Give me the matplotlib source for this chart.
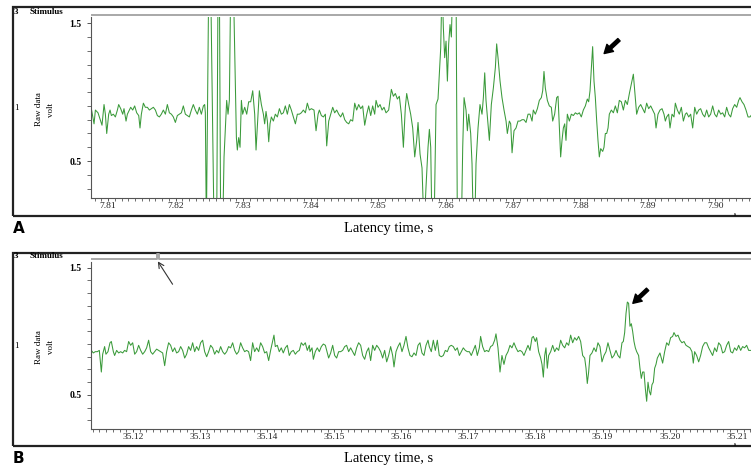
import matplotlib.pyplot as plt
from matplotlib.patches import Rectangle
from matplotlib.ticker import MultipleLocator, FormatStrFormatter

# Panel A trace: (ms after 7.80 s, volt). Values outside the axis were clipped in the recording.
trace_a = [
    (7.53, 0.88), (7.93, 0.77), (8.13, 0.87), (8.52, 0.85), (8.92, 0.79), (9.11, 0.76), (9.41, 0.91),
    (9.61, 0.84), (9.81, 0.70), (10.10, 0.84), (10.30, 0.87), (10.50, 0.83), (10.79, 0.84), (11.09, 0.82),
    (11.39, 0.87), (11.58, 0.91), (11.88, 0.88), (12.18, 0.84), (12.37, 0.88), (12.67, 0.79), (12.87, 0.84),
    (13.16, 0.87), (13.36, 0.89), (13.66, 0.87), (13.95, 0.90), (14.25, 0.85), (14.55, 0.83), (14.74, 0.74),
    (14.94, 0.84), (15.24, 0.92), (15.53, 0.89), (15.83, 0.89), (16.13, 0.87), (16.42, 0.88), (16.72, 0.89),
    (17.02, 0.87), (17.31, 0.83), (17.61, 0.82), (17.90, 0.84), (18.20, 0.87), (18.50, 0.84), (18.79, 0.91),
    (19.09, 0.85), (19.39, 0.84), (19.68, 0.82), (19.98, 0.78), (20.27, 0.83), (20.57, 0.84), (20.87, 0.85),
    (21.16, 0.90), (21.46, 0.84), (21.76, 0.83), (22.05, 0.82), (22.35, 0.87), (22.64, 0.91), (22.94, 0.87),
    (23.24, 0.84), (23.53, 0.89), (23.83, 0.84), (24.13, 0.90), (24.32, 0.91), (24.42, 0.85),
    (24.57, 0.0), (24.92, 1.8), (25.21, 1.8), (25.71, 0.0), (26.10, 0.0), (26.30, 1.8), (26.50, 1.8),
    (26.69, 0.0), (26.99, 0.0), (27.19, 0.53), (27.58, 0.94), (27.78, 0.84), (27.98, 0.94), (28.18, 1.8),
    (28.57, 1.8), (29.02, 0.67), (29.16, 0.58), (29.36, 0.67), (29.56, 0.60), (29.76, 0.94), (29.95, 0.84),
    (30.25, 0.89), (30.55, 0.84), (30.84, 0.93), (31.14, 0.93), (31.44, 1.01), (31.73, 0.84), (31.93, 0.58),
    (32.23, 0.84), (32.42, 1.01), (32.72, 0.91), (33.02, 0.84), (33.21, 0.77), (33.41, 0.86), (33.61, 0.79),
    (33.81, 0.64), (34.00, 0.77), (34.20, 0.82), (34.50, 0.79), (34.79, 0.84), (35.09, 0.82), (35.39, 0.88),
    (35.68, 0.84), (35.98, 0.85), (36.27, 0.90), (36.57, 0.84), (36.87, 0.91), (37.16, 0.87), (37.46, 0.82),
    (37.76, 0.77), (38.05, 0.84), (38.35, 0.84), (38.64, 0.85), (38.94, 0.87), (39.24, 0.85), (39.53, 0.92),
    (39.83, 0.87), (40.13, 0.88),
    (40.52, 0.87), (40.82, 0.72), (41.12, 0.84), (41.31, 0.87), (41.61, 0.83), (41.91, 0.82), (42.20, 0.84),
    (42.40, 0.61), (42.70, 0.79), (42.99, 0.84), (43.29, 0.89), (43.58, 0.85), (43.88, 0.87), (44.18, 0.84),
    (44.47, 0.82), (44.77, 0.85), (45.07, 0.80), (45.36, 0.78), (45.66, 0.77), (45.95, 0.80), (46.25, 0.79),
    (46.55, 0.92), (46.84, 0.87), (47.14, 0.91), (47.44, 0.88), (47.73, 0.90), (48.03, 0.76), (48.33, 0.84),
    (48.62, 0.90), (48.92, 0.83), (49.21, 0.90), (49.51, 0.84), (49.71, 0.94), (50.00, 0.89), (50.30, 0.91),
    (50.60, 0.87), (50.89, 0.89), (51.19, 0.85), (51.58, 0.87), (51.98, 1.02), (52.28, 0.97), (52.57, 0.99),
    (52.87, 0.95), (53.16, 0.97), (53.46, 0.84), (53.76, 0.60), (54.05, 0.89), (54.25, 0.99), (54.55, 0.91),
    (54.84, 0.84), (55.14, 0.74), (55.44, 0.53), (55.73, 0.65), (55.93, 0.78), (56.23, 0.55), (56.52, 0.45),
    (56.82, 0.0), (57.11, 0.31), (57.41, 0.60), (57.61, 0.73), (57.81, 0.60), (58.00, 0.0), (58.30, 0.0),
    (58.60, 0.91), (58.89, 0.95), (59.09, 1.13), (59.29, 1.32), (59.49, 1.8), (59.68, 1.47), (59.88, 1.25),
    (60.08, 1.37), (60.28, 1.08), (60.47, 1.35), (60.67, 1.49), (60.87, 1.40), (61.07, 1.8), (61.26, 1.8),
    (61.56, 1.8), (61.76, 0.0), (61.95, 0.0), (62.35, 0.0), (62.55, 0.60), (62.75, 0.96), (63.04, 0.87),
    (63.24, 0.72), (63.44, 0.84), (63.73, 0.70), (63.93, 0.48), (64.13, 0.0), (64.33, 0.0), (64.52, 0.48),
    (64.82, 0.74), (65.11, 0.91), (65.41, 0.84), (65.61, 0.96), (65.81, 1.14), (66.00, 0.94), (66.30, 0.77),
    (66.50, 0.65), (66.79, 0.91), (67.09, 1.03), (67.39, 1.18), (67.58, 1.35), (67.78, 1.25), (68.08, 1.08),
    (68.37, 0.96), (68.67, 0.87), (68.97, 0.79), (69.16, 0.70), (69.46, 0.79), (69.66, 0.77), (69.86, 0.56),
    (70.15, 0.72), (70.45, 0.74), (70.74, 0.79), (71.04, 0.79), (71.34, 0.80), (71.63, 0.80), (71.93, 0.78),
    (72.23, 0.84),
    (72.52, 0.84), (72.82, 0.79), (73.01, 0.87), (73.31, 0.84), (73.61, 0.88), (73.90, 0.94), (74.20, 0.96),
    (74.40, 1.01), (74.59, 1.15), (74.79, 1.03), (75.09, 0.94), (75.38, 0.90), (75.68, 0.89), (75.88, 0.79),
    (76.17, 0.84), (76.47, 0.96), (76.67, 0.97), (76.87, 0.74), (77.06, 0.53), (77.26, 0.65), (77.46, 0.74),
    (77.66, 0.77), (77.85, 0.65), (78.05, 0.84), (78.35, 0.79), (78.64, 0.84), (78.94, 0.83), (79.24, 0.85),
    (79.53, 0.84), (79.83, 0.85), (80.12, 0.82), (80.42, 0.87), (80.72, 0.90), (81.01, 0.95), (81.21, 0.93),
    (81.41, 1.01), (81.61, 1.18), (81.80, 1.33), (82.00, 1.08), (82.20, 0.96), (82.40, 0.79), (82.59, 0.65),
    (82.79, 0.53), (82.99, 0.59), (83.29, 0.57), (83.48, 0.60), (83.68, 0.70), (83.88, 0.70), (84.08, 0.74),
    (84.27, 0.84), (84.57, 0.87), (84.87, 0.85), (85.16, 0.90), (85.46, 0.85), (85.75, 0.94), (86.05, 0.93),
    (86.35, 0.87), (86.64, 0.94), (86.94, 0.91), (87.24, 0.99), (87.53, 1.06), (87.83, 1.13), (88.12, 0.96),
    (88.32, 0.84), (88.62, 0.89), (88.92, 0.91), (89.21, 0.88), (89.51, 0.85), (89.80, 0.92), (90.10, 0.88),
    (90.40, 0.90), (90.69, 0.87), (90.99, 0.84), (91.19, 0.74), (91.48, 0.84), (91.78, 0.87), (92.08, 0.88),
    (92.37, 0.84), (92.57, 0.79), (92.77, 0.82), (93.06, 0.84), (93.26, 0.74), (93.56, 0.84), (93.85, 0.82),
    (94.05, 0.92), (94.35, 0.87), (94.64, 0.84), (94.94, 0.89), (95.24, 0.79), (95.53, 0.84), (95.73, 0.85),
    (96.03, 0.82), (96.32, 0.84), (96.62, 0.74), (96.92, 0.89), (97.21, 0.84), (97.51, 0.87), (97.80, 0.88),
    (98.10, 0.84), (98.40, 0.82), (98.69, 0.87), (98.99, 0.82), (99.28, 0.84), (99.58, 0.90), (99.88, 0.84),
    (100.17, 0.82), (100.47, 0.87), (100.77, 0.84), (101.06, 0.85), (101.36, 0.82), (101.65, 0.89),
    (101.95, 0.84), (102.25, 0.82), (102.54, 0.88), (102.84, 0.91), (103.14, 0.89), (103.43, 0.94),
    (103.63, 0.96), (103.93, 0.93), (104.22, 0.91), (104.52, 0.87), (104.82, 0.82), (105.11, 0.82),
    (105.26, 0.83),
]

# Panel B trace: (ms after 35.10 s, volt)
trace_b = [
    (13.79, 0.85), (14.08, 0.83), (14.38, 0.84), (14.68, 0.84), (14.98, 0.85), (15.28, 0.68), (15.48, 0.82),
    (15.77, 0.88), (15.97, 0.82), (16.27, 0.84), (16.57, 0.91), (16.77, 0.92), (17.07, 0.84), (17.26, 0.81),
    (17.56, 0.85), (17.86, 0.83), (18.16, 0.84), (18.46, 0.83), (18.75, 0.85), (19.05, 0.84), (19.35, 0.92),
    (19.65, 0.89), (19.95, 0.91), (20.25, 0.82), (20.54, 0.84), (20.84, 0.89), (21.14, 0.85), (21.44, 0.82),
    (21.74, 0.84), (22.03, 0.87), (22.33, 0.93), (22.63, 0.84), (22.93, 0.82), (23.23, 0.84), (23.52, 0.86),
    (23.82, 0.85), (24.12, 0.84), (24.42, 0.83), (24.72, 0.73), (25.01, 0.84), (25.31, 0.91), (25.61, 0.89),
    (25.91, 0.84), (26.21, 0.87), (26.50, 0.83), (26.80, 0.84), (27.10, 0.88), (27.40, 0.85), (27.70, 0.79),
    (27.99, 0.82), (28.29, 0.88), (28.59, 0.85), (28.89, 0.91), (29.19, 0.84), (29.48, 0.88), (29.78, 0.85),
    (30.08, 0.91), (30.38, 0.93), (30.68, 0.84), (30.98, 0.80), (31.27, 0.84), (31.57, 0.89), (31.87, 0.87),
    (32.17, 0.82), (32.47, 0.85), (32.76, 0.83), (33.06, 0.88), (33.36, 0.84), (33.66, 0.82), (33.96, 0.84),
    (34.25, 0.88), (34.55, 0.87), (34.85, 0.91), (35.15, 0.85), (35.45, 0.82), (35.74, 0.84), (36.04, 0.91),
    (36.34, 0.87), (36.64, 0.84), (36.94, 0.85), (37.23, 0.84), (37.53, 0.77), (37.83, 0.91), (38.13, 0.84),
    (38.43, 0.87), (38.73, 0.84), (39.02, 0.91), (39.32, 0.88), (39.62, 0.83), (39.92, 0.84), (40.22, 0.77),
    (40.51, 0.85), (40.81, 0.92), (41.01, 0.97), (41.21, 0.88), (41.51, 0.89), (41.80, 0.84), (42.10, 0.87),
    (42.40, 0.83), (42.70, 0.87), (43.00, 0.89), (43.29, 0.81), (43.59, 0.84), (43.89, 0.85), (44.19, 0.82),
    (44.49, 0.84), (44.79, 0.85), (45.08, 0.91), (45.38, 0.89), (45.68, 0.91), (45.98, 0.85), (46.28, 0.89),
    (46.38, 0.84), (46.68, 0.87), (46.88, 0.78), (47.17, 0.84), (47.47, 0.87), (47.77, 0.84), (48.07, 0.88),
    (48.37, 0.90), (48.67, 0.89), (48.86, 0.85), (49.16, 0.79), (49.46, 0.83), (49.76, 0.89), (50.06, 0.81),
    (50.35, 0.79), (50.65, 0.84), (50.95, 0.84), (51.25, 0.85), (51.55, 0.88), (51.84, 0.89), (52.14, 0.84),
    (52.44, 0.87), (52.74, 0.84), (53.04, 0.81), (53.33, 0.87), (53.63, 0.91), (53.93, 0.89), (54.23, 0.81),
    (54.53, 0.78), (54.83, 0.84), (55.12, 0.87), (55.42, 0.77), (55.72, 0.89), (56.02, 0.85), (56.32, 0.89),
    (56.61, 0.87), (56.91, 0.84), (57.21, 0.79), (57.51, 0.85), (57.81, 0.76), (58.10, 0.81), (58.40, 0.88),
    (58.70, 0.81), (58.90, 0.72), (59.20, 0.84), (59.49, 0.88), (59.79, 0.91), (60.09, 0.84), (60.39, 0.89),
    (60.69, 0.96), (60.98, 0.87), (61.28, 0.81), (61.58, 0.80), (61.88, 0.83), (62.18, 0.81), (62.48, 0.89),
    (62.77, 0.91), (63.07, 0.83), (63.37, 0.81), (63.67, 0.89), (63.97, 0.93), (64.16, 0.88), (64.46, 0.84),
    (64.76, 0.93), (65.06, 0.85), (65.36, 0.93), (65.65, 0.81), (65.95, 0.80), (66.25, 0.81), (66.55, 0.85),
    (66.85, 0.84), (67.14, 0.88), (67.44, 0.89), (67.74, 0.88), (68.04, 0.85), (68.34, 0.87), (68.64, 0.81),
    (68.93, 0.84), (69.23, 0.87), (69.53, 0.85), (69.83, 0.84), (70.13, 0.84), (70.42, 0.81), (70.72, 0.85),
    (71.02, 0.89), (71.32, 0.81), (71.62, 0.87), (71.81, 0.96), (72.11, 0.88), (72.41, 0.84), (72.71, 0.85),
    (73.01, 0.84), (73.30, 0.88), (73.60, 0.89), (73.90, 0.93), (74.10, 0.98), (74.40, 0.87), (74.70, 0.68),
    (74.99, 0.81), (75.29, 0.74), (75.59, 0.81), (75.89, 0.84), (76.19, 0.89), (76.48, 0.87), (76.78, 0.91),
    (77.08, 0.87), (77.38, 0.84), (77.68, 0.85), (77.97, 0.84), (78.27, 0.81), (78.57, 0.85), (78.87, 0.89),
    (79.17, 0.85), (79.47, 0.95), (79.67, 0.96), (79.96, 0.92), (80.16, 0.95), (80.46, 0.84), (80.76, 0.79),
    (80.96, 0.74), (81.16, 0.64), (81.36, 0.81), (81.55, 0.87), (81.75, 0.71), (81.95, 0.81), (82.25, 0.84),
    (82.55, 0.89), (82.85, 0.84), (83.14, 0.87), (83.44, 0.85), (83.74, 0.93), (84.04, 0.89), (84.34, 0.87),
    (84.63, 0.91), (84.93, 0.89), (85.23, 0.97), (85.53, 0.91), (85.83, 0.95), (86.12, 0.93), (86.42, 0.96),
    (86.72, 0.92), (87.02, 0.81), (87.32, 0.79), (87.52, 0.71), (87.71, 0.59), (87.91, 0.68), (88.11, 0.81),
    (88.41, 0.83), (88.71, 0.87), (89.01, 0.84), (89.30, 0.91), (89.60, 0.88), (89.90, 0.76), (90.20, 0.81),
    (90.50, 0.84), (90.79, 0.91), (91.09, 0.85), (91.39, 0.79), (91.69, 0.81), (91.99, 0.85), (92.28, 0.81),
    (92.58, 0.79), (92.88, 0.91), (93.08, 0.92), (93.28, 0.99), (93.48, 1.14), (93.68, 1.23), (93.87, 1.22),
    (94.07, 1.04), (94.27, 1.06), (94.47, 1.00), (94.67, 0.92), (94.87, 0.87), (95.07, 0.84), (95.36, 0.81),
    (95.56, 0.71), (95.76, 0.63), (95.96, 0.68), (96.16, 0.68), (96.36, 0.55), (96.56, 0.45), (96.76, 0.60),
    (96.95, 0.53), (97.15, 0.50), (97.35, 0.58), (97.55, 0.60), (97.75, 0.71), (97.95, 0.74), (98.15, 0.79),
    (98.35, 0.81), (98.54, 0.83), (98.74, 0.79), (98.94, 0.75), (99.24, 0.84), (99.54, 0.91), (99.84, 0.89),
    (100.13, 0.95), (100.43, 0.96), (100.63, 0.99), (100.93, 0.96), (101.23, 0.97), (101.53, 0.93),
    (101.82, 0.91), (102.12, 0.92), (102.42, 0.89), (102.72, 0.88), (103.02, 0.87), (103.31, 0.84),
    (103.51, 0.75), (103.71, 0.84), (104.01, 0.81), (104.31, 0.76), (104.60, 0.81), (104.90, 0.88),
    (105.20, 0.91), (105.50, 0.91), (105.80, 0.87), (106.10, 0.84), (106.39, 0.81), (106.69, 0.87),
    (106.99, 0.84), (107.29, 0.91), (107.59, 0.89), (107.88, 0.83), (108.18, 0.84), (108.48, 0.89),
    (108.78, 0.92), (109.08, 0.84), (109.37, 0.83), (109.67, 0.87), (109.97, 0.85), (110.27, 0.89),
    (110.57, 0.85), (110.86, 0.88), (111.16, 0.87), (111.46, 0.89), (111.76, 0.85), (112.11, 0.85),
]

t0_a = 7.80
t0_b = 35.10
xlim_a = (7.80748, 7.90526)
xlim_b = (35.11374, 35.21211)
ylim = (0.232, 1.545)
stim_b = 35.1237          # stimulus mark on the panel B stimulus channel
peak_a = (7.8835, 1.28)   # bold arrow target, panel A
peak_b = (35.1945, 1.22)  # bold arrow target, panel B

W, H = 751, 469
GREEN = '#3a9a3a'
SERIF = 'Liberation Serif'


def box(l, t, r, b):
    return [l / W, 1 - b / H, (r - l) / W, (b - t) / H]


def fx(x):
    return x / W


def fy(y):
    return 1 - y / H


def draw_panel(fig, trace, t0, xlim, stim_top, top, bottom, box_top, box_bottom, letter, stim_x=None):
    # outer frame of the panel
    fig.add_artist(Rectangle((fx(13), fy(box_bottom)), fx(800 - 13), (box_bottom - box_top) / H,
                             transform=fig.transFigure, fill=False, lw=1.6, ec='#222222', zorder=0))

    # stimulus channel
    sa = fig.add_axes(box(91, stim_top - 6, 751, stim_top + 3))
    sa.set_xlim(*xlim)
    sa.set_ylim(-1, 2)
    sa.axis('off')
    if stim_x is None:
        sa.plot(xlim, [0, 0], color='#a8a8a8', lw=1.4)
    else:
        sa.plot([xlim[0], stim_x - 0.00012, stim_x - 0.00012, stim_x + 0.00012, stim_x + 0.00012, xlim[1]],
                [0, 0, 1.6, 1.6, 0, 0], color='#a8a8a8', lw=1.4)

    ax = fig.add_axes(box(91, top, 751, bottom))
    t = [t0 + p[0] / 1000 for p in trace]
    v = [p[1] for p in trace]
    ax.plot(t, v, color=GREEN, lw=0.75)
    ax.set_xlim(*xlim)
    ax.set_ylim(*ylim)
    for s in ['top', 'right']:
        ax.spines[s].set_visible(False)
    for s in ['left', 'bottom']:
        ax.spines[s].set_color('#555555')
        ax.spines[s].set_linewidth(0.8)
    ax.xaxis.set_major_locator(MultipleLocator(0.01))
    ax.xaxis.set_minor_locator(MultipleLocator(0.001))
    ax.xaxis.set_major_formatter(FormatStrFormatter('%.2f'))
    ax.set_yticks([0.5, 1.5])
    ax.yaxis.set_minor_locator(MultipleLocator(0.1))
    ax.set_yticklabels(['0.5', '1.5'], fontfamily=SERIF, fontweight='bold', fontsize=7)
    ax.tick_params(axis='x', which='major', length=2.5, width=0.7, color='#555555', pad=0.5,
                   labelsize=6.8, labelcolor='#222222')
    ax.tick_params(axis='x', which='minor', length=2, width=0.6, color='#555555')
    ax.tick_params(axis='y', which='major', length=3, width=0.7, color='#555555', pad=4)
    ax.tick_params(axis='y', which='minor', length=3, width=0.6, color='#555555')
    for lab in ax.get_xticklabels():
        lab.set_fontfamily(SERIF)

    # channel labels on the left
    fig.text(fx(14), fy(stim_top - 3), '3', fontsize=6.5, fontfamily=SERIF, fontweight='bold', va='center')
    fig.text(fx(30), fy(stim_top - 3), 'Stimulus', fontsize=6.5, fontfamily=SERIF, fontweight='bold',
             va='center')
    mid = (top + bottom) / 2
    fig.text(fx(14), fy(mid), '1', fontsize=6.5, fontfamily=SERIF, va='center')
    fig.text(fx(45), fy(mid + 2), 'Raw data\nvolt', fontsize=6.5, fontfamily=SERIF, rotation=90,
             ha='center', va='center', multialignment='center', linespacing=1.7)
    fig.text(fx(735), fy(box_bottom - 1.5), 's', fontsize=4, fontfamily=SERIF, fontweight='bold',
             ha='center', va='center')

    fig.text(fx(389), fy(box_bottom + 12), 'Latency time, s', fontsize=10.5, fontfamily=SERIF,
             ha='center', va='center')
    fig.text(fx(13), fy(box_bottom + 12), letter, fontsize=11, fontweight='bold', ha='left', va='center')
    return ax


fig = plt.figure(figsize=(W / 100, H / 100), dpi=100)

ax_a = draw_panel(fig, trace_a, t0_a, xlim_a, 15, 17, 198, 7, 216, 'A')
ax_b = draw_panel(fig, trace_b, t0_b, xlim_b, 259, 262, 429, 253, 446, 'B', stim_x=stim_b)

bold = dict(facecolor='black', edgecolor='black', width=2.4, headwidth=7, headlength=6, shrink=0)
ax_a.annotate('', xy=peak_a, xytext=(peak_a[0] + 0.0022, peak_a[1] + 0.10), arrowprops=bold,
              annotation_clip=False)
ax_b.annotate('', xy=peak_b, xytext=(peak_b[0] + 0.0022, peak_b[1] + 0.11), arrowprops=bold,
              annotation_clip=False)
ax_b.annotate('', xy=(stim_b, 1.55), xytext=(stim_b + 0.0022, 1.37),
              arrowprops=dict(arrowstyle='->', lw=0.8, color='#333333', shrinkA=0, shrinkB=0),
              annotation_clip=False)

fig.savefig('out.png', dpi=100)
